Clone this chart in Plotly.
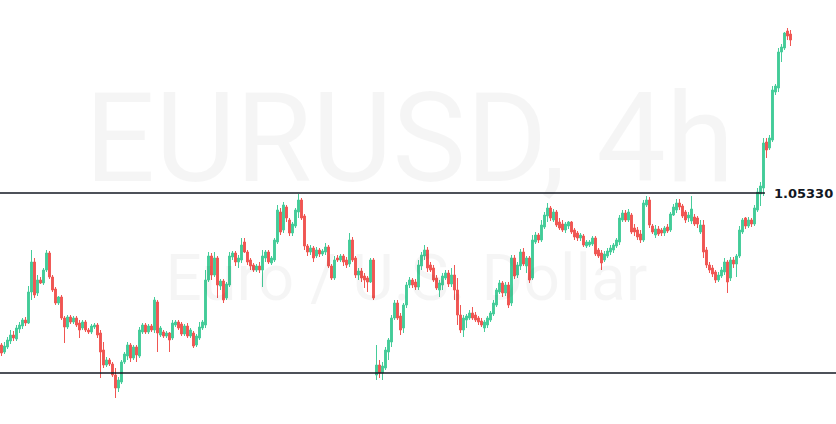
"""EURUSD 4h candles with a range box (support / resistance at 1.05330)."""

import plotly.graph_objects as go

COL_UP = "#45cc9a"
COL_DOWN = "#f05652"
COL_LEVEL = "#131722"
COL_WATERMARK = "rgba(0,0,0,0.04)"

SYMBOL = "EURUSD, 4h"
DESCRIPTION = "Euro / U.S. Dollar"
RESISTANCE = 1.05330
SUPPORT = 1.03530

open_ = [
    1.0381, 1.0374, 1.0379, 1.0385, 1.0391, 1.0387, 1.0397, 1.0400, 1.0406, 1.0403,
    1.0434, 1.0464, 1.0433, 1.0446, 1.0443, 1.0456, 1.0473, 1.0449, 1.0437, 1.0423,
    1.0429, 1.0408, 1.0399, 1.0409, 1.0404, 1.0408, 1.0403, 1.0398, 1.0404, 1.0396,
    1.0394, 1.0399, 1.0401, 1.0393, 1.0376, 1.0361, 1.0366, 1.0362, 1.0351, 1.0338,
    1.0344, 1.0364, 1.0370, 1.0381, 1.0368, 1.0379, 1.0370, 1.0394, 1.0401, 1.0394,
    1.0400, 1.0396, 1.0424, 1.0391, 1.0394, 1.0390, 1.0393, 1.0388, 1.0401, 1.0404,
    1.0402, 1.0392, 1.0400, 1.0390, 1.0393, 1.0381, 1.0388, 1.0398, 1.0401, 1.0446,
    1.0470, 1.0451, 1.0468, 1.0440, 1.0445, 1.0428, 1.0441, 1.0469, 1.0473, 1.0464,
    1.0466, 1.0484, 1.0474, 1.0466, 1.0461, 1.0456, 1.0460, 1.0456, 1.0468, 1.0474,
    1.0463, 1.0466, 1.0484, 1.0514, 1.0496, 1.0519, 1.0506, 1.0493, 1.0500, 1.0514,
    1.0526, 1.0510, 1.0480, 1.0474, 1.0478, 1.0470, 1.0476, 1.0472, 1.0474, 1.0479,
    1.0460, 1.0448, 1.0468, 1.0466, 1.0470, 1.0466, 1.0462, 1.0486, 1.0468, 1.0451,
    1.0455, 1.0450, 1.0448, 1.0444, 1.0466, 1.0351, 1.0361, 1.0353, 1.0358, 1.0374,
    1.0384, 1.0408, 1.0423, 1.0410, 1.0398, 1.0421, 1.0441, 1.0446, 1.0444, 1.0439,
    1.0460, 1.0470, 1.0476, 1.0461, 1.0458, 1.0448, 1.0436, 1.0441, 1.0448, 1.0453,
    1.0442, 1.0451, 1.0436, 1.0411, 1.0396, 1.0406, 1.0408, 1.0413, 1.0411, 1.0408,
    1.0405, 1.0398, 1.0401, 1.0406, 1.0412, 1.0421, 1.0434, 1.0443, 1.0433, 1.0441,
    1.0423, 1.0468, 1.0451, 1.0460, 1.0474, 1.0460, 1.0468, 1.0448, 1.0484, 1.0491,
    1.0486, 1.0499, 1.0510, 1.0518, 1.0506, 1.0514, 1.0504, 1.0502, 1.0496, 1.0500,
    1.0504, 1.0496, 1.0493, 1.0488, 1.0490, 1.0480, 1.0481, 1.0482, 1.0488, 1.0476,
    1.0473, 1.0466, 1.0470, 1.0474, 1.0476, 1.0480, 1.0484, 1.0506, 1.0513, 1.0506,
    1.0511, 1.0498, 1.0496, 1.0492, 1.0486, 1.0521, 1.0526, 1.0500, 1.0491, 1.0497,
    1.0496, 1.0493, 1.0499, 1.0496, 1.0511, 1.0516, 1.0523, 1.0520, 1.0514, 1.0508,
    1.0505, 1.0509, 1.0508, 1.0494, 1.0501, 1.0476, 1.0461, 1.0458, 1.0454, 1.0446,
    1.0450, 1.0454, 1.0464, 1.0448, 1.0466, 1.0462, 1.0470, 1.0494, 1.0508, 1.0500,
    1.0506, 1.0502, 1.0516, 1.0532, 1.0538, 1.0584, 1.0578, 1.0586, 1.0634, 1.0638,
    1.0674, 1.0678, 1.0695, 1.0692,
]
high = [
    1.0383, 1.0384, 1.0389, 1.0396, 1.0395, 1.0401, 1.0404, 1.0408, 1.0409, 1.0440,
    1.0476, 1.0468, 1.0451, 1.0449, 1.0458, 1.0476, 1.0475, 1.0451, 1.0439, 1.0430,
    1.0431, 1.0410, 1.0411, 1.0411, 1.0410, 1.0410, 1.0406, 1.0406, 1.0406, 1.0398,
    1.0402, 1.0403, 1.0403, 1.0396, 1.0384, 1.0369, 1.0368, 1.0364, 1.0358, 1.0349,
    1.0366, 1.0374, 1.0384, 1.0383, 1.0381, 1.0381, 1.0399, 1.0403, 1.0403, 1.0402,
    1.0402, 1.0429, 1.0426, 1.0400, 1.0396, 1.0395, 1.0394, 1.0406, 1.0406, 1.0406,
    1.0404, 1.0402, 1.0403, 1.0398, 1.0395, 1.0392, 1.0404, 1.0406, 1.0456, 1.0474,
    1.0473, 1.0474, 1.0470, 1.0447, 1.0447, 1.0444, 1.0474, 1.0475, 1.0475, 1.0471,
    1.0488, 1.0488, 1.0476, 1.0468, 1.0463, 1.0462, 1.0464, 1.0476, 1.0476, 1.0476,
    1.0470, 1.0488, 1.0521, 1.0518, 1.0524, 1.0521, 1.0508, 1.0504, 1.0518, 1.0532,
    1.0528, 1.0512, 1.0482, 1.0481, 1.0480, 1.0479, 1.0478, 1.0477, 1.0483, 1.0481,
    1.0462, 1.0470, 1.0471, 1.0472, 1.0472, 1.0469, 1.0493, 1.0489, 1.0470, 1.0458,
    1.0458, 1.0453, 1.0450, 1.0468, 1.0468, 1.0381, 1.0366, 1.0364, 1.0379, 1.0388,
    1.0411, 1.0426, 1.0426, 1.0413, 1.0423, 1.0444, 1.0449, 1.0448, 1.0447, 1.0466,
    1.0474, 1.0481, 1.0479, 1.0464, 1.0461, 1.0451, 1.0446, 1.0453, 1.0456, 1.0456,
    1.0458, 1.0461, 1.0448, 1.0421, 1.0411, 1.0412, 1.0416, 1.0419, 1.0414, 1.0410,
    1.0408, 1.0406, 1.0410, 1.0415, 1.0426, 1.0438, 1.0446, 1.0445, 1.0444, 1.0444,
    1.0471, 1.0471, 1.0464, 1.0477, 1.0478, 1.0470, 1.0470, 1.0491, 1.0494, 1.0493,
    1.0506, 1.0514, 1.0523, 1.0520, 1.0517, 1.0516, 1.0508, 1.0506, 1.0504, 1.0505,
    1.0505, 1.0498, 1.0495, 1.0493, 1.0492, 1.0486, 1.0486, 1.0490, 1.0490, 1.0478,
    1.0476, 1.0475, 1.0478, 1.0481, 1.0483, 1.0488, 1.0511, 1.0516, 1.0516, 1.0517,
    1.0513, 1.0502, 1.0499, 1.0496, 1.0526, 1.0530, 1.0529, 1.0502, 1.0501, 1.0500,
    1.0498, 1.0500, 1.0502, 1.0514, 1.0522, 1.0527, 1.0527, 1.0522, 1.0516, 1.0514,
    1.0530, 1.0512, 1.0510, 1.0506, 1.0506, 1.0479, 1.0464, 1.0461, 1.0456, 1.0454,
    1.0459, 1.0468, 1.0466, 1.0469, 1.0469, 1.0472, 1.0500, 1.0508, 1.0509, 1.0509,
    1.0508, 1.0521, 1.0538, 1.0544, 1.0588, 1.0588, 1.0591, 1.0640, 1.0642, 1.0678,
    1.0682, 1.0694, 1.0698, 1.0696,
]
low = [
    1.0370, 1.0372, 1.0377, 1.0382, 1.0385, 1.0385, 1.0393, 1.0397, 1.0400, 1.0402,
    1.0426, 1.0428, 1.0430, 1.0442, 1.0441, 1.0454, 1.0447, 1.0434, 1.0421, 1.0421,
    1.0406, 1.0383, 1.0397, 1.0402, 1.0402, 1.0399, 1.0388, 1.0396, 1.0394, 1.0392,
    1.0392, 1.0397, 1.0388, 1.0348, 1.0358, 1.0359, 1.0360, 1.0349, 1.0328, 1.0334,
    1.0342, 1.0362, 1.0366, 1.0364, 1.0366, 1.0364, 1.0368, 1.0392, 1.0392, 1.0392,
    1.0394, 1.0393, 1.0374, 1.0389, 1.0388, 1.0388, 1.0374, 1.0386, 1.0399, 1.0396,
    1.0390, 1.0390, 1.0388, 1.0388, 1.0378, 1.0379, 1.0386, 1.0396, 1.0398, 1.0444,
    1.0446, 1.0449, 1.0428, 1.0436, 1.0423, 1.0426, 1.0439, 1.0466, 1.0460, 1.0458,
    1.0463, 1.0473, 1.0461, 1.0456, 1.0454, 1.0454, 1.0453, 1.0439, 1.0464, 1.0462,
    1.0461, 1.0464, 1.0482, 1.0491, 1.0493, 1.0504, 1.0490, 1.0490, 1.0498, 1.0508,
    1.0506, 1.0476, 1.0470, 1.0471, 1.0464, 1.0468, 1.0469, 1.0470, 1.0471, 1.0458,
    1.0446, 1.0446, 1.0464, 1.0464, 1.0460, 1.0458, 1.0459, 1.0464, 1.0448, 1.0446,
    1.0444, 1.0438, 1.0434, 1.0443, 1.0426, 1.0346, 1.0348, 1.0346, 1.0356, 1.0366,
    1.0379, 1.0406, 1.0406, 1.0391, 1.0393, 1.0418, 1.0438, 1.0438, 1.0436, 1.0436,
    1.0456, 1.0466, 1.0454, 1.0454, 1.0444, 1.0436, 1.0429, 1.0436, 1.0446, 1.0439,
    1.0439, 1.0426, 1.0401, 1.0393, 1.0389, 1.0398, 1.0406, 1.0406, 1.0404, 1.0401,
    1.0399, 1.0394, 1.0398, 1.0404, 1.0410, 1.0419, 1.0432, 1.0429, 1.0430, 1.0418,
    1.0420, 1.0447, 1.0448, 1.0456, 1.0460, 1.0453, 1.0443, 1.0446, 1.0482, 1.0483,
    1.0484, 1.0497, 1.0504, 1.0505, 1.0504, 1.0499, 1.0496, 1.0494, 1.0493, 1.0497,
    1.0492, 1.0486, 1.0485, 1.0485, 1.0479, 1.0478, 1.0479, 1.0480, 1.0470, 1.0468,
    1.0456, 1.0464, 1.0468, 1.0471, 1.0473, 1.0478, 1.0481, 1.0504, 1.0504, 1.0504,
    1.0492, 1.0490, 1.0486, 1.0483, 1.0484, 1.0519, 1.0498, 1.0492, 1.0488, 1.0490,
    1.0490, 1.0490, 1.0493, 1.0494, 1.0510, 1.0513, 1.0516, 1.0508, 1.0503, 1.0504,
    1.0502, 1.0500, 1.0498, 1.0492, 1.0468, 1.0458, 1.0453, 1.0449, 1.0443, 1.0444,
    1.0448, 1.0451, 1.0433, 1.0445, 1.0458, 1.0449, 1.0468, 1.0492, 1.0497, 1.0498,
    1.0499, 1.0500, 1.0514, 1.0520, 1.0530, 1.0568, 1.0576, 1.0584, 1.0631, 1.0634,
    1.0664, 1.0676, 1.0686, 1.0680,
]
close = [
    1.0373, 1.0380, 1.0386, 1.0391, 1.0388, 1.0398, 1.0401, 1.0406, 1.0403, 1.0434,
    1.0464, 1.0431, 1.0446, 1.0443, 1.0456, 1.0473, 1.0449, 1.0436, 1.0423, 1.0429,
    1.0408, 1.0399, 1.0409, 1.0404, 1.0408, 1.0401, 1.0396, 1.0404, 1.0396, 1.0394,
    1.0400, 1.0401, 1.0391, 1.0374, 1.0361, 1.0366, 1.0362, 1.0351, 1.0338, 1.0346,
    1.0364, 1.0372, 1.0381, 1.0368, 1.0379, 1.0371, 1.0396, 1.0401, 1.0394, 1.0400,
    1.0396, 1.0426, 1.0393, 1.0398, 1.0390, 1.0393, 1.0386, 1.0403, 1.0404, 1.0398,
    1.0392, 1.0400, 1.0390, 1.0396, 1.0380, 1.0390, 1.0399, 1.0404, 1.0446, 1.0470,
    1.0451, 1.0468, 1.0441, 1.0445, 1.0426, 1.0442, 1.0470, 1.0473, 1.0464, 1.0468,
    1.0481, 1.0474, 1.0464, 1.0460, 1.0456, 1.0460, 1.0456, 1.0470, 1.0474, 1.0464,
    1.0468, 1.0486, 1.0516, 1.0494, 1.0521, 1.0508, 1.0493, 1.0502, 1.0516, 1.0526,
    1.0508, 1.0480, 1.0474, 1.0478, 1.0468, 1.0476, 1.0472, 1.0475, 1.0479, 1.0460,
    1.0448, 1.0466, 1.0466, 1.0470, 1.0464, 1.0461, 1.0486, 1.0466, 1.0451, 1.0455,
    1.0448, 1.0446, 1.0444, 1.0466, 1.0428, 1.0361, 1.0353, 1.0360, 1.0376, 1.0386,
    1.0408, 1.0423, 1.0408, 1.0396, 1.0421, 1.0441, 1.0446, 1.0441, 1.0439, 1.0461,
    1.0471, 1.0476, 1.0458, 1.0456, 1.0446, 1.0438, 1.0443, 1.0450, 1.0453, 1.0442,
    1.0451, 1.0436, 1.0411, 1.0396, 1.0408, 1.0410, 1.0413, 1.0408, 1.0406, 1.0404,
    1.0401, 1.0404, 1.0408, 1.0413, 1.0423, 1.0436, 1.0443, 1.0433, 1.0441, 1.0421,
    1.0468, 1.0450, 1.0461, 1.0474, 1.0462, 1.0468, 1.0446, 1.0486, 1.0491, 1.0486,
    1.0501, 1.0511, 1.0518, 1.0508, 1.0514, 1.0501, 1.0498, 1.0496, 1.0502, 1.0504,
    1.0494, 1.0489, 1.0488, 1.0491, 1.0481, 1.0484, 1.0484, 1.0488, 1.0472, 1.0470,
    1.0463, 1.0472, 1.0475, 1.0478, 1.0481, 1.0486, 1.0508, 1.0513, 1.0506, 1.0514,
    1.0494, 1.0494, 1.0489, 1.0486, 1.0523, 1.0526, 1.0501, 1.0494, 1.0497, 1.0492,
    1.0493, 1.0498, 1.0495, 1.0512, 1.0519, 1.0523, 1.0519, 1.0510, 1.0506, 1.0511,
    1.0517, 1.0502, 1.0502, 1.0501, 1.0474, 1.0461, 1.0456, 1.0452, 1.0446, 1.0451,
    1.0456, 1.0464, 1.0444, 1.0466, 1.0462, 1.0470, 1.0496, 1.0506, 1.0500, 1.0506,
    1.0502, 1.0518, 1.0534, 1.0540, 1.0583, 1.0576, 1.0588, 1.0636, 1.0640, 1.0674,
    1.0679, 1.0693, 1.0690, 1.0686,
]

bars = list(range(len(close)))

fig = go.Figure()

# faint watermark first so the candles sit on top of it
fig.add_trace(go.Scatter(
    x=[136], y=[1.0576], mode="text", text=[SYMBOL],
    textfont={"family": "Roboto", "size": 124, "color": COL_WATERMARK},
    hoverinfo="skip", showlegend=False,
))
fig.add_trace(go.Scatter(
    x=[135], y=[1.0442], mode="text", text=[DESCRIPTION],
    textfont={"family": "Roboto", "size": 64, "color": COL_WATERMARK},
    hoverinfo="skip", showlegend=False,
))

fig.add_trace(go.Candlestick(
    x=bars, open=open_, high=high, low=low, close=close,
    increasing={"line": {"color": COL_UP, "width": 1}, "fillcolor": COL_UP},
    decreasing={"line": {"color": COL_DOWN, "width": 1}, "fillcolor": COL_DOWN},
    whiskerwidth=0, showlegend=False,
))

fig.add_shape(type="line", xref="paper", x0=0, x1=0.915, y0=RESISTANCE, y1=RESISTANCE,
              line={"color": COL_LEVEL, "width": 1.5})
fig.add_shape(type="line", xref="paper", x0=0, x1=1, y0=SUPPORT, y1=SUPPORT,
              line={"color": COL_LEVEL, "width": 1.5})
fig.add_annotation(
    xref="paper", x=0.924, y=RESISTANCE, xanchor="left", yanchor="middle",
    text=f"<b>{RESISTANCE:.5f}</b>", showarrow=False,
    font={"family": "DejaVu Sans", "size": 13, "color": COL_LEVEL},
)

fig.update_layout(
    width=836, height=424, margin={"l": 0, "r": 0, "t": 0, "b": 0},
    paper_bgcolor="white", plot_bgcolor="white", showlegend=False,
    boxgap=0.1,
    xaxis={"range": [-0.5, 278.17], "visible": False, "rangeslider": {"visible": False}},
    yaxis={"range": [1.0302, 1.0726], "visible": False},
)

# drop the page's default body margin so the figure sits flush in the window
fig.write_html(
    "out.html",
    config={"displayModeBar": False},
    post_script="document.body.style.margin = '0';",
)
